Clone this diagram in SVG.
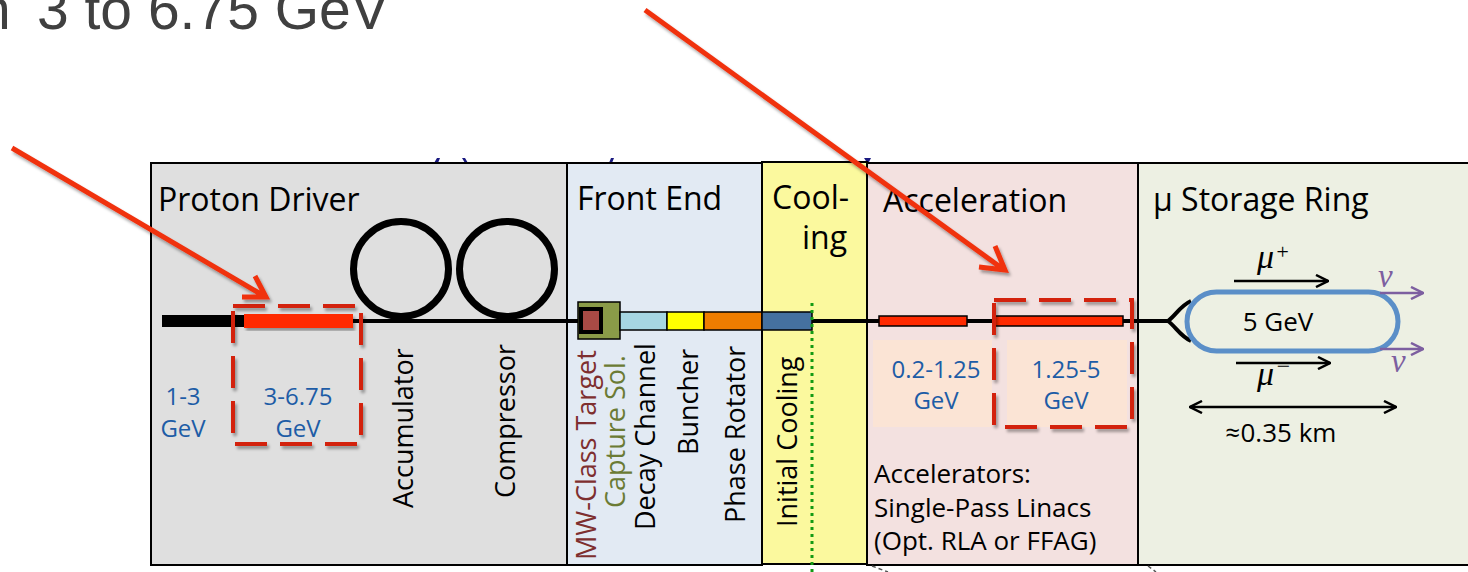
<svg xmlns="http://www.w3.org/2000/svg" width="1468" height="572" viewBox="0 0 1468 572">
<style>
.sec{stroke:#000;stroke-width:2}
.h{font-family:"Open Sans","Liberation Sans",sans-serif;font-size:32px;fill:#000}
.v{font-family:"Open Sans","Liberation Sans",sans-serif;font-size:27px;fill:#000}
.t{font-family:"Open Sans","Liberation Sans",sans-serif;font-size:26px;fill:#000}
.b{font-family:"Open Sans","Liberation Sans",sans-serif;font-size:24px;fill:#1d5ca6;text-anchor:middle}
.g{font-family:"Liberation Serif","DejaVu Serif",serif;font-style:italic;fill:#000}
.dash{fill:none;stroke:#d3220f;stroke-width:4;stroke-dasharray:32 13}
.red{fill:none;stroke:#f0300f;stroke-width:5;stroke-linejoin:miter}
</style>
<defs>
<filter id="sh" x="-20%" y="-20%" width="140%" height="140%"><feDropShadow dx="2" dy="3" stdDeviation="1.5" flood-opacity="0.35"/></filter>
<marker id="ab" viewBox="0 0 14 14" refX="13" refY="7" markerWidth="14" markerHeight="14" markerUnits="userSpaceOnUse" orient="auto-start-reverse"><path d="M1,1 L13,7 L1,13" fill="none" stroke="#000" stroke-width="2.5"/></marker>
<marker id="ap" viewBox="0 0 14 14" refX="13" refY="7" markerWidth="14" markerHeight="14" markerUnits="userSpaceOnUse" orient="auto"><path d="M1,1 L13,7 L1,13" fill="none" stroke="#7d5fa0" stroke-width="2.5"/></marker>
</defs>
<rect width="1468" height="572" fill="#fff"/>
<text y="29" font-family="Liberation Sans, Arial, sans-serif" font-size="57" fill="#404040"><tspan x="-21">n</tspan><tspan x="37">3 to 6.75 GeV</tspan></text>
<g id="fragments" fill="#1a1a80">
<path d="M434,163 L437,158 L440,158 L438,163 Z"/>
<path d="M462,158 L465,158 L468,163 L465,163 Z"/>
<path d="M609,163 L611,158 L614,158 L612,163 Z"/>
<path d="M864,158 L871,158 L868,164 Z"/>
</g>
<g id="sections">
<rect id="proton-driver" class="sec" x="151" y="163" width="416" height="402" fill="#dfdfdf"/>
<rect id="front-end" class="sec" x="567" y="163" width="195" height="402" fill="#e2eaf3"/>
<rect id="cooling" class="sec" x="762" y="162" width="105" height="402" fill="#fbf99e"/>
<rect id="acceleration" class="sec" x="867" y="163" width="271" height="402" fill="#f3e1e0"/>
<rect id="storage-ring" class="sec" x="1138" y="163" width="332" height="402" fill="#edf0e3"/>
</g>
<g id="bottom-fragments" stroke="#555" stroke-width="1.5" stroke-dasharray="4 3" fill="none">
<path d="M872,566 L888,572"/>
<path d="M1148,566 L1156,572"/>
</g>
<g id="titles">
<text class="h" x="158" y="211">Proton Driver</text>
<text class="h" x="577" y="210">Front End</text>
<text class="h" x="772" y="209">Cool-</text>
<text class="h" x="847" y="249" text-anchor="end">ing</text>
<text class="h" x="883" y="212">Acceleration</text>
<text class="h" x="1153" y="211">μ Storage Ring</text>
</g>
<g id="beamline">
<line x1="353" y1="321" x2="580" y2="321" stroke="#000" stroke-width="4"/>
<line x1="812" y1="321" x2="1170" y2="321" stroke="#000" stroke-width="4"/>
<rect x="162" y="315" width="82" height="12" fill="#000"/>
<rect x="244" y="314" width="109" height="14" fill="#ff2a00" filter="url(#sh)"/>
</g>
<g id="accumulator">
<circle cx="401" cy="269" r="47.5" fill="none" stroke="#000" stroke-width="7"/>
<text class="v" transform="translate(413,508) rotate(-90)">Accumulator</text>
</g>
<g id="compressor">
<circle cx="507" cy="269" r="47.5" fill="none" stroke="#000" stroke-width="7"/>
<text class="v" transform="translate(515,498) rotate(-90)">Compressor</text>
</g>
<g id="linac-pd">
<rect class="dash" x="233" y="306" width="128" height="138" filter="url(#sh)"/>
<text class="b" x="183" y="405">1-3</text>
<text class="b" x="183" y="437">GeV</text>
<text class="b" x="298" y="405">3-6.75</text>
<text class="b" x="298" y="437">GeV</text>
</g>
<g id="target">
<rect x="578" y="302" width="42" height="37" fill="#8a9b48" stroke="#000" stroke-width="1.5"/>
<rect x="581" y="309" width="20" height="23" fill="#a84a45" stroke="#000" stroke-width="4"/>
<text class="v" style="fill:#7e2f2f" transform="translate(596,560) rotate(-90)">MW-Class Target</text>
<text class="v" style="fill:#6b7b34" transform="translate(625,508) rotate(-90)">Capture Sol.</text>
</g>
<g id="decay-channel">
<rect x="620" y="312" width="47" height="18" fill="#a6d6e2" stroke="#000" stroke-width="1.5"/>
<text class="v" transform="translate(655,530) rotate(-90)">Decay Channel</text>
</g>
<g id="buncher">
<rect x="667" y="312" width="37" height="18" fill="#ffff00" stroke="#000" stroke-width="1.5"/>
<text class="v" transform="translate(698,455) rotate(-90)">Buncher</text>
</g>
<g id="phase-rotator">
<rect x="704" y="312" width="58" height="18" fill="#ee7d00" stroke="#000" stroke-width="1.5"/>
<text class="v" transform="translate(745,523) rotate(-90)">Phase Rotator</text>
</g>
<g id="initial-cooling">
<rect x="762" y="312" width="50" height="18" fill="#45719f" stroke="#000" stroke-width="1.5"/>
<line x1="812" y1="303" x2="812" y2="572" stroke="#139a13" stroke-width="3" stroke-dasharray="3 4"/>
<text class="v" transform="translate(797,527) rotate(-90)">Initial Cooling</text>
</g>
<g id="accelerators">
<rect x="873" y="340" width="119" height="87" fill="#fbe4d5"/>
<rect x="1007" y="340" width="120" height="87" fill="#fbe4d5"/>
<rect x="879" y="316" width="88" height="10" fill="#ff2a00" stroke="#000" stroke-width="1.5"/>
<rect x="994" y="316" width="129" height="10" fill="#ff2a00" stroke="#000" stroke-width="1.5"/>
<rect class="dash" x="994" y="300" width="138" height="127" filter="url(#sh)"/>
<text class="b" x="936" y="378">0.2-1.25</text>
<text class="b" x="936" y="409">GeV</text>
<text class="b" x="1066" y="378">1.25-5</text>
<text class="b" x="1066" y="409">GeV</text>
<text class="t" x="874" y="483">Accelerators:</text>
<text class="t" x="874" y="517">Single-Pass Linacs</text>
<text class="t" x="874" y="550">(Opt. RLA or FFAG)</text>
</g>
<g id="ring">
<path d="M1168,321 C1176,315 1180,306 1191,301 M1168,321 C1176,327 1180,336 1191,341" fill="none" stroke="#000" stroke-width="4"/>
<rect x="1187" y="292" width="211" height="59" rx="29.5" fill="none" stroke="#5b8fc8" stroke-width="5"/>
<text class="t" x="1278" y="331" text-anchor="middle">5 GeV</text>
<text class="t" x="1281" y="442" text-anchor="middle">≈0.35 km</text>
<text class="g" x="1257" y="268" font-size="34">μ<tspan font-size="22" dy="-9" dx="1">+</tspan></text>
<text class="g" x="1257" y="385" font-size="34">μ<tspan font-size="24" dy="-11" dx="1">−</tspan></text>
<text class="g" x="1378" y="287" font-size="33" style="fill:#7d5fa0">ν</text>
<text class="g" x="1391" y="372" font-size="33" style="fill:#7d5fa0">ν</text>
</g>
<g id="connectors">
<line x1="1234" y1="281" x2="1328" y2="281" stroke="#000" stroke-width="2.5" marker-end="url(#ab)"/>
<line x1="1236" y1="363" x2="1330" y2="363" stroke="#000" stroke-width="2.5" marker-end="url(#ab)"/>
<line x1="1190" y1="407" x2="1396" y2="407" stroke="#000" stroke-width="2.5" marker-start="url(#ab)" marker-end="url(#ab)"/>
<line x1="1380" y1="293" x2="1423" y2="293" stroke="#7d5fa0" stroke-width="2.5" marker-end="url(#ap)"/>
<line x1="1380" y1="349" x2="1423" y2="349" stroke="#7d5fa0" stroke-width="2.5" marker-end="url(#ap)"/>
<g filter="url(#sh)">
<path class="red" d="M12,148 L264,296 M242,297 L266,297 L255,276"/>
<path class="red" d="M645,10 L1003,269 M979,267 L1005,270 L995,246"/>
</g>
</g>
</svg>
